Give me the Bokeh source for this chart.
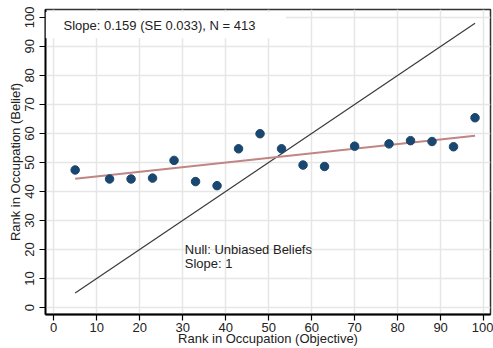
from bokeh.plotting import figure
from bokeh.models import Range1d, FixedTicker, Label, BoxAnnotation
from bokeh.embed import file_html
from bokeh.resources import INLINE

# ---- data ----
x_objective = [5, 13, 18, 23, 28, 33, 38, 43, 48, 53, 58, 63, 70, 78, 83, 88, 93, 98]
y_belief = [47.4, 44.3, 44.3, 44.6, 50.7, 43.4, 42.0, 54.7, 59.9, 54.7, 49.1, 48.6,
            55.6, 56.4, 57.5, 57.2, 55.4, 65.4]
fit_x = [5, 98]
fit_y = [44.4, 59.2]
null_x = [5, 98]
null_y = [5, 98]
ticks = [0, 10, 20, 30, 40, 50, 60, 70, 80, 90, 100]
slope_text = "Slope: 0.159 (SE 0.033), N = 413"
null_text_1 = "Null: Unbiased Beliefs"
null_text_2 = "Slope: 1"
x_title = "Rank in Occupation (Objective)"
y_title = "Rank in Occupation (Belief)"

FONT = "Liberation Sans"
FS = "13px"

p = figure(width=493, height=348, output_backend="svg", toolbar_location=None,
           x_range=Range1d(-1.9, 101.6), y_range=Range1d(-2.4, 102.7),
           min_border_left=45, min_border_right=3, min_border_top=9, min_border_bottom=33)
p.background_fill_color = "white"
p.border_fill_color = "white"
p.outline_line_color = "#333333"
p.outline_line_width = 1.5

for ax in (p.xaxis[0], p.yaxis[0]):
    ax.ticker = FixedTicker(ticks=ticks)
    ax.minor_tick_line_color = None
    ax.major_tick_in = 0
    ax.major_tick_out = 6
    ax.axis_line_color = "black"
    ax.axis_line_width = 1.8
    ax.major_tick_line_color = "black"
    ax.major_tick_line_width = 1.2
    ax.major_label_text_font = FONT
    ax.major_label_text_font_size = FS
    ax.major_label_text_color = "#222222"
    ax.axis_label_text_font = FONT
    ax.axis_label_text_font_size = FS
    ax.axis_label_text_font_style = "normal"
    ax.axis_label_text_color = "#222222"

p.xaxis.axis_label = x_title
p.yaxis.axis_label = y_title
p.yaxis.major_label_orientation = "vertical"
p.xaxis.major_label_standoff = 2
p.xaxis.axis_label_standoff = -4
p.yaxis.major_label_standoff = 5
p.yaxis.axis_label_standoff = 0

p.xgrid.ticker = FixedTicker(ticks=ticks)
p.ygrid.ticker = FixedTicker(ticks=ticks)
p.grid.grid_line_color = "#e6e6e6"
p.grid.grid_line_width = 1.5

# lines and points
p.line(null_x, null_y, line_color="#3a3a3a", line_width=1.2)
p.line(fit_x, fit_y, line_color="#c08585", line_width=2)
p.scatter(x_objective, y_belief, size=8.5, fill_color="#1a476f", line_color="#1a476f")

# slope box (white background behind the caption)
p.add_layout(BoxAnnotation(left=-1.9, right=54, top=101.8, bottom=92.8,
                           fill_color="white", fill_alpha=1.0, line_color=None))
p.add_layout(Label(x=2.3, y=97.3, text=slope_text, text_baseline="middle",
                   text_font=FONT, text_font_size=FS, text_color="#222222"))

p.add_layout(Label(x=30.5, y=19.9, text=null_text_1, text_baseline="middle",
                   text_font=FONT, text_font_size=FS, text_color="#222222"))
p.add_layout(Label(x=30.5, y=15.1, text=null_text_2, text_baseline="middle",
                   text_font=FONT, text_font_size=FS, text_color="#222222"))

open("out.html", "w").write(file_html(p, INLINE))
